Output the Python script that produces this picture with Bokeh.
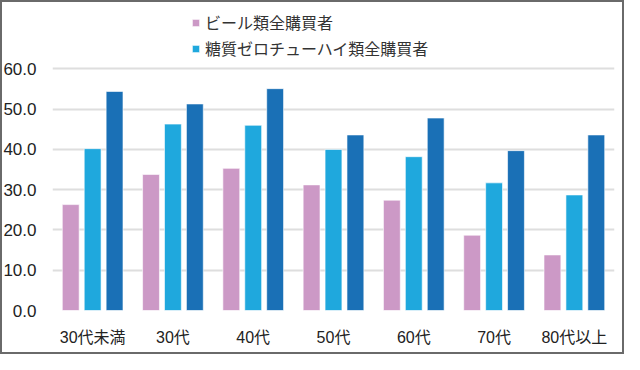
from bokeh.plotting import figure
from bokeh.models import (FactorRange, Range1d, FixedTicker, Legend, LegendItem,
                          ColumnDataSource, CustomJSTickFormatter, InlineStyleSheet)
from bokeh.transform import dodge
from bokeh.embed import file_html
from bokeh.resources import INLINE

categories = ["30代未満", "30代", "40代", "50代", "60代", "70代", "80代以上"]
beer = [26.3, 33.8, 35.3, 31.2, 27.4, 18.7, 13.8]
zero = [40.2, 46.3, 46.0, 40.0, 38.2, 31.7, 28.7]
third = [54.4, 51.3, 55.1, 43.6, 47.8, 39.7, 43.6]
series_labels = ["ビール類全購買者", "糖質ゼロチューハイ類全購買者"]
y_ticks = [0, 10, 20, 30, 40, 50, 60]

src = ColumnDataSource(dict(cat=categories, beer=beer, zero=zero, third=third))

FONT = "'Liberation Sans', 'Noto Sans CJK JP', sans-serif"
W, H = 624, 354

p = figure(width=W, height=H, x_range=FactorRange(*categories),
           y_range=Range1d(0, 76.0), output_backend="svg", toolbar_location=None,
           min_border_left=52, min_border_right=10, min_border_top=4, min_border_bottom=44)
p.outline_line_color = None
p.background_fill_color = "white"
p.border_fill_alpha = 0
p.stylesheets = [InlineStyleSheet(css=":host { background: white; "
                                      "box-shadow: inset 0 0 0 2px #6a6a6a; "
                                      "outline: 2px solid #6a6a6a; outline-offset: -2px; }")]

w = 0.21
off = 0.273
r1 = p.vbar(x=dodge("cat", -off, range=p.x_range), top="beer", width=w, source=src,
            fill_color="#CC99C6", line_color="white", line_alpha=0.6, line_width=1)
r2 = p.vbar(x=dodge("cat", 0, range=p.x_range), top="zero", width=w, source=src,
            fill_color="#1FA8DD", line_color="white", line_alpha=0.6, line_width=1)
r3 = p.vbar(x=dodge("cat", off, range=p.x_range), top="third", width=w, source=src,
            fill_color="#1A70B6", line_color="white", line_alpha=0.6, line_width=1)

p.xgrid.grid_line_color = None
p.ygrid.ticker = FixedTicker(ticks=y_ticks)
p.ygrid.grid_line_color = "#DEDEDE"
p.ygrid.grid_line_width = 2

p.yaxis.ticker = FixedTicker(ticks=y_ticks)
p.yaxis.formatter = CustomJSTickFormatter(code="return tick.toFixed(1);")
for ax in (p.xaxis, p.yaxis):
    ax.axis_line_color = None
    ax.major_tick_line_color = None
    ax.minor_tick_line_color = None
    ax.major_label_text_font = FONT
    ax.major_label_text_font_size = "16px"
    ax.major_label_text_color = "#222222"
p.yaxis.major_label_text_font_size = "17px"
p.yaxis.major_label_standoff = 10
p.xaxis.major_label_standoff = 12

legend = Legend(items=[LegendItem(label=series_labels[0], renderers=[r1]),
                       LegendItem(label=series_labels[1], renderers=[r2])],
                location=(139, 250), orientation="vertical",
                border_line_color=None, background_fill_alpha=0,
                padding=0, margin=0, spacing=2,
                glyph_width=9, glyph_height=9, label_standoff=5, label_height=20,
                label_text_font=FONT, label_text_font_size="16px",
                label_text_color="#333333")
p.add_layout(legend, "center")

open("out.html", "w").write(file_html(p, INLINE))
